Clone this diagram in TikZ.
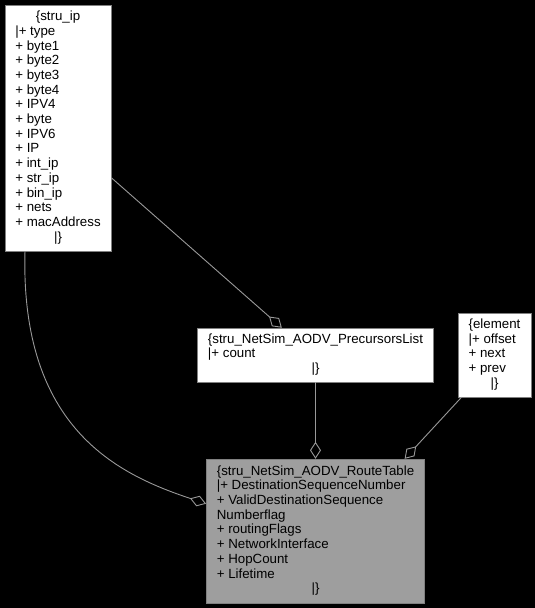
\documentclass[tikz,border=0pt]{standalone}
\usepackage{fontspec}
\setmainfont{Liberation Sans}
\usetikzlibrary{arrows.meta, positioning}
\newcommand{\midline}[1]{\multicolumn{1}{@{}c@{}}{#1}}

\begin{document}
\begin{tikzpicture}[x=1pt, y=-1pt,
    record/.style={draw=black!50, fill=white, inner xsep=10.5pt, inner ysep=5pt,
      font=\fontsize{13.3}{14.7}\selectfont},
    member/.style={draw=black!40, line width=0.9pt, -{Diamond[open, length=17pt, width=11pt]}}]
    \fill[black] (0,0) rectangle (535,608);

    \node[record, minimum width=106pt, minimum height=246pt] (stru ip) at (58,128)
      {\begin{tabular}{@{}l@{}}\midline{\{stru\_ip}\\|+ type\\+ byte1\\+ byte2\\+ byte3\\+ byte4\\+ IPV4\\+ byte\\+ IPV6\\+ IP\\+ int\_ip\\+ str\_ip\\+ bin\_ip\\+ nets\\+ macAddress\\\midline{|\}}\end{tabular}};
    \node[record, minimum width=233pt, minimum height=54pt] (precursors list) at (315.5,355)
      {\begin{tabular}{@{}l@{}}\{stru\_NetSim\_AODV\_PrecursorsList\\|+ count\\\midline{|\}}\end{tabular}};
    \node[record, minimum width=73pt, minimum height=84pt] (element) at (494.5,355)
      {\begin{tabular}{@{}l@{}}\{element\\|+ offset\\+ next\\+ prev\\\midline{|\}}\end{tabular}};
    \node[record, fill=black!38, minimum width=215pt, minimum height=144pt] (route table) at (315.5,531)
      {\begin{tabular}{@{}l@{}}\{stru\_NetSim\_AODV\_RouteTable\\|+ DestinationSequenceNumber\\+ ValidDestinationSequence\\Numberflag\\+ routingFlags\\+ NetworkInterface\\+ HopCount\\+ Lifetime\\\midline{|\}}\end{tabular}};

    \draw[member] (stru ip.-43) -- (precursors list.141);
    \draw[member] (stru ip.-105) .. controls (20,430) and (120,475) .. (route table.166);
    \draw[member] (precursors list.south) -- (route table.north);
    \draw[member] (element.-128) -- (route table.39);
\end{tikzpicture}
\end{document}
